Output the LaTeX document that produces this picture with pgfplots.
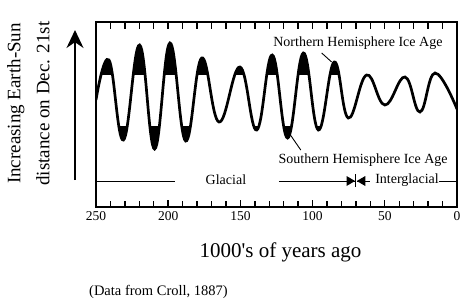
\documentclass[border=0pt]{standalone}
\usepackage{fontspec}
\setmainfont{Liberation Serif}
\usepackage{pgfplots}
\pgfplotsset{compat=1.18}
\usetikzlibrary{arrows.meta}
\pgfplotstableread{
t y
250 107
241 147
231 67
219.8 162
209.4 58
198.8 164
187.9 66
176.8 149
164.8 85
150.3 140
138.7 77
127.9 152
117.3 69
106.4 154
96 77
85 145
75.3 89
62.6 132
49.9 102
36 130
25.6 95
15.2 134
0 98
}\curvedata
\begin{document}
\begin{tikzpicture}
\useasboundingbox (0,0) rectangle (467pt,301pt);
\begin{axis}[
  at={(96pt,94pt)}, anchor=south west,
  scale only axis, width=361pt, height=185pt,
  xmin=0, xmax=250, x dir=reverse,
  ymin=0, ymax=185,
  xtick={0,50,...,250}, minor xtick={10,20,...,240},
  ytick=\empty,
  tick align=inside, xtick pos=both, xticklabel pos=lower,
  major tick length=7pt, minor tick length=6.5pt,
  every tick/.style={black, line width=1.4pt},
  axis line style={line width=1.8pt},
  /pgf/number format/assume math mode=true,
  xticklabel style={font=\fontsize{13.5}{14}\selectfont, yshift=-1pt},
]
\begin{scope}
\clip (axis cs:250,133) rectangle (axis cs:0,185);
\addplot[fill=black, draw=none, smooth, tension=0.7] table[x=t,y=y] {\curvedata} -- (axis cs:0,0) -- (axis cs:250,0) -- cycle;
\end{scope}
\begin{scope}
\clip (axis cs:250,0) rectangle (axis cs:0,81);
\addplot[fill=black, draw=none, smooth, tension=0.7] table[x=t,y=y] {\curvedata} -- (axis cs:0,185) -- (axis cs:250,185) -- cycle;
\end{scope}
\addplot[black, line width=2.7pt, smooth, tension=0.7] table[x=t,y=y] {\curvedata};
% glacial / interglacial line
\draw[line width=0.9pt] (axis cs:250,26) -- (axis cs:195.3,26);
\node[font=\fontsize{14}{14}\selectfont] at (axis cs:160,27) {Glacial};
\draw[line width=0.9pt] (axis cs:123.3,26) -- (axis cs:70.5,26);
\draw[line width=0.9pt] (axis cs:70,20) -- (axis cs:70,33);
\fill (axis cs:76.5,31) -- (axis cs:70.6,26) -- (axis cs:76.5,21) -- cycle;
\fill (axis cs:63.5,31) -- (axis cs:69.4,26) -- (axis cs:63.5,21) -- cycle;
\draw[line width=0.9pt] (axis cs:69.4,26) -- (axis cs:60.5,26);
\node[font=\fontsize{14}{14}\selectfont] at (axis cs:34.6,27) {Interglacial};
\draw[line width=0.9pt] (axis cs:12.5,26) -- (axis cs:0,26);
% annotations
\node[font=\fontsize{14}{14}\selectfont] at (axis cs:68.6,164) {Northern Hemisphere Ice Age};
\draw[line width=0.9pt] (axis cs:93.7,154) -- (axis cs:86.8,145);
\node[font=\fontsize{14}{14}\selectfont] at (axis cs:65,47) {Southern Hemisphere Ice Age};
\draw[line width=0.9pt] (axis cs:116.3,74) -- (axis cs:108.2,57);
\end{axis}
\draw[line width=1.5pt, -{Stealth[length=18pt,width=17pt]}] (75pt,121pt) -- (75pt,271pt);
\node[rotate=90, align=center, font=\fontsize{19}{29}\selectfont] at (28.5pt,197.5pt) {Increasing Earth-Sun\\distance on Dec. 21st};
\node[anchor=base, font=\fontsize{21}{21}\selectfont] at (280.5pt,43.7pt) {1000\textquotesingle s of years ago};
\node[anchor=base west, inner sep=0pt, font=\fontsize{14.5}{14.5}\selectfont] at (89pt,6pt) {(Data from Croll, 1887)};
\end{tikzpicture}
\end{document}
